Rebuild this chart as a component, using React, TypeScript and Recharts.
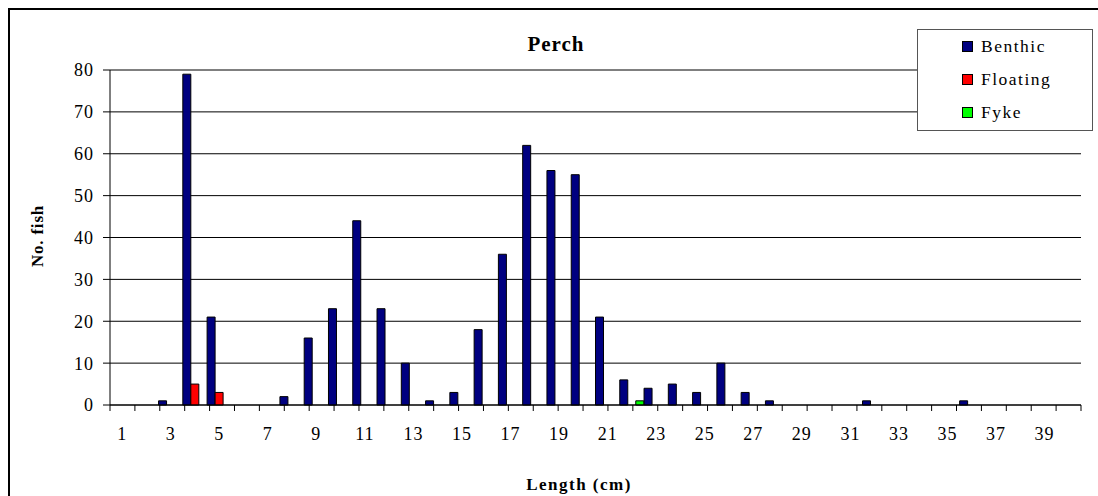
import React from 'react';
import { BarChart, Bar, XAxis, YAxis, CartesianGrid, Legend } from 'recharts';

const lengths = [
  '1', '2', '3', '4', '5', '6', '7', '8', '9', '10',
  '11', '12', '13', '14', '15', '16', '17', '18', '19', '20',
  '21', '22', '23', '24', '25', '26', '27', '28', '29', '30',
  '31', '32', '33', '34', '35', '36', '37', '38', '39', '40',
];

const benthic = [
  0, 0, 1, 79, 21, 0, 0, 2, 16, 23,
  44, 23, 10, 1, 3, 18, 36, 62, 56, 55,
  21, 6, 4, 5, 3, 10, 3, 1, 0, 0,
  0, 1, 0, 0, 0, 1, 0, 0, 0, 0,
];

const floating = [
  0, 0, 0, 5, 3, 0, 0, 0, 0, 0,
  0, 0, 0, 0, 0, 0, 0, 0, 0, 0,
  0, 0, 0, 0, 0, 0, 0, 0, 0, 0,
  0, 0, 0, 0, 0, 0, 0, 0, 0, 0,
];

const fyke = [
  0, 0, 0, 0, 0, 0, 0, 0, 0, 0,
  0, 0, 0, 0, 0, 0, 0, 0, 0, 0,
  0, 1, 0, 0, 0, 0, 0, 0, 0, 0,
  0, 0, 0, 0, 0, 0, 0, 0, 0, 0,
];

const yTicks = [0, 10, 20, 30, 40, 50, 60, 70, 80];

// category boundaries, where the tick marks sit
const edgeTicks = [
  0, 1, 2, 3, 4, 5, 6, 7, 8, 9, 10,
  11, 12, 13, 14, 15, 16, 17, 18, 19, 20,
  21, 22, 23, 24, 25, 26, 27, 28, 29, 30,
  31, 32, 33, 34, 35, 36, 37, 38, 39, 40,
];

const data = lengths.map((len, i) => ({
  len,
  Benthic: benthic[i],
  Floating: floating[i],
  Fyke: fyke[i],
}));

const FONT = 'Liberation Serif, Tinos, Times New Roman, serif';
const W = 1088;
const H = 486;

const renderLegend = (props: any) => {
  const { payload = [] } = props;
  return (
    <div
      style={{
        position: 'relative',
        boxSizing: 'border-box',
        width: 176,
        height: 102,
        border: '1.5px solid #555',
        background: '#fff',
        fontFamily: FONT,
        fontSize: 17.5,
        letterSpacing: 1.5,
        color: '#000',
      }}
    >
      {payload.map((entry: any, i: number) => (
        <div
          key={entry.value}
          style={{
            position: 'absolute',
            left: 44,
            top: 5 + i * 33,
            height: 22,
            display: 'flex',
            alignItems: 'center',
            whiteSpace: 'nowrap',
          }}
        >
          <span
            style={{
              display: 'inline-block',
              boxSizing: 'border-box',
              width: 11,
              height: 11,
              border: '1px solid #000',
              background: entry.color,
              marginRight: 8,
            }}
          />
          <span style={{ lineHeight: '22px', fontFamily: FONT }}>{entry.value}</span>
        </div>
      ))}
    </div>
  );
};

export default function App() {
  return (
    <div style={{ width: 1090, height: 488, paddingLeft: 8, paddingTop: 8, overflow: 'hidden' }}>
      <style>{'html,body{margin:0;padding:0;overflow:hidden}'}</style>
      <div
        style={{
          position: 'relative',
          width: W,
          height: H,
          borderTop: '2px solid #000',
          borderLeft: '2px solid #000',
          fontFamily: FONT,
          letterSpacing: 1,
          background: '#fff',
        }}
      >
        <BarChart
          width={W}
          height={H}
          data={data}
          margin={{ top: 60, right: 17, left: 40, bottom: 50 }}
          barCategoryGap={0}
          barGap={0}
        >
          <CartesianGrid vertical={false} stroke="#000" />
          <XAxis
            xAxisId="b_cat"
            dataKey="len"
            interval={1}
            height={40}
            axisLine={false}
            tickLine={false}
            tickSize={6}
            tickMargin={15}
            tick={{ fill: '#000', fontSize: 18, fontFamily: FONT }}
          />
          <XAxis
            xAxisId="a_edges"
            type="number"
            domain={[0, 40]}
            allowDataOverflow
            ticks={edgeTicks}
            interval={0}
            height={1}
            tickSize={6}
            tickFormatter={() => ''}
            axisLine={{ stroke: '#000' }}
            tickLine={{ stroke: '#000' }}
          />
          <YAxis
            domain={[0, 80]}
            ticks={yTicks}
            width={60}
            tickSize={7}
            tickMargin={9}
            axisLine={{ stroke: '#000' }}
            tickLine={{ stroke: '#000' }}
            tick={{ fill: '#000', fontSize: 18, fontFamily: FONT }}
          />
          <Legend
            layout="vertical"
            align="center"
            verticalAlign="middle"
            wrapperStyle={{ left: 907, top: 19, width: 176, height: 102 }}
            content={renderLegend}
          />
          <Bar xAxisId="b_cat" dataKey="Benthic" fill="#000080" stroke="#000" strokeWidth={1} isAnimationActive={false} />
          <Bar xAxisId="b_cat" dataKey="Floating" fill="#FF0000" stroke="#000" strokeWidth={1} isAnimationActive={false} />
          <Bar xAxisId="b_cat" dataKey="Fyke" fill="#00FF00" stroke="#000" strokeWidth={1} isAnimationActive={false} />
        </BarChart>
        <svg
          width={W}
          height={H}
          style={{ position: 'absolute', left: 0, top: 0, pointerEvents: 'none' }}
          fontFamily={FONT}
        >
          <text x={546} y={41} textAnchor="middle" fontSize={21} fontWeight="bold" fill="#000">
            Perch
          </text>
          <text x={569} y={480} textAnchor="middle" fontSize={17} fontWeight="bold" fill="#000" letterSpacing={1.5}>
            Length (cm)
          </text>
          <text
            x={33}
            y={226}
            textAnchor="middle"
            fontSize={17}
            fontWeight="bold"
            fill="#000"
            letterSpacing={0.8}
            transform="rotate(-90 33 226)"
          >
            No. fish
          </text>
        </svg>
      </div>
    </div>
  );
}
